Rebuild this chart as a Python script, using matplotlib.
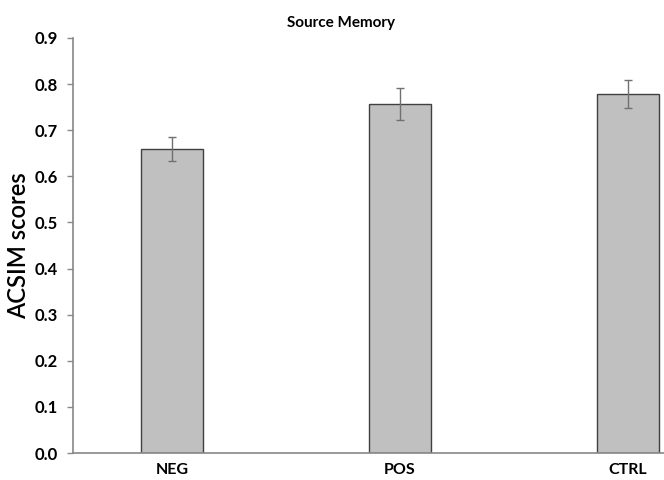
import matplotlib
matplotlib.use("Agg")
import matplotlib.pyplot as plt

groups = ["NEG", "POS", "CTRL"]
means = [0.659, 0.757, 0.779]
errs = [0.026, 0.035, 0.030]
yticks = [0.0, 0.1, 0.2, 0.3, 0.4, 0.5, 0.6, 0.7, 0.8, 0.9]

plt.rcParams['font.family'] = ['Lato', 'DejaVu Sans']

fig = plt.figure(figsize=(6.64, 4.8), dpi=100)
ax = fig.add_axes([0.110, 0.056, 0.890, 0.865])

x = range(len(groups))
ax.bar(x, means, width=0.276, color="#c0c0c0", edgecolor="#404040", linewidth=1.0, zorder=2)
ax.errorbar(x, means, yerr=errs, fmt="none", ecolor="#707070", elinewidth=1.0,
            capsize=3, capthick=1.0, zorder=3)

ax.set_xlim(-0.434, 2.158)
ax.set_ylim(0, 0.9)
ax.set_xticks(list(x))
ax.set_xticklabels(groups, fontsize=11.5, fontweight="bold")
ax.set_yticks(yticks)
ax.set_yticklabels(["%.1f" % v for v in yticks], fontsize=12, fontweight="bold")
ax.tick_params(axis="x", length=0, pad=7)
ax.tick_params(axis="y", length=4, width=1, color="#888888", pad=7)

for side in ["top", "right"]:
    ax.spines[side].set_visible(False)
for side in ["left", "bottom"]:
    ax.spines[side].set_color("#888888")
    ax.spines[side].set_linewidth(1.2)

ax.set_ylabel("ACSIM scores", fontsize=17, fontweight="semibold")
ax.yaxis.set_label_coords(-0.072, 0.5)
fig.text(0.513, 0.953, "Source Memory", ha="center", va="center", fontsize=11, fontweight="bold")

fig.savefig("out.png", dpi=100)
